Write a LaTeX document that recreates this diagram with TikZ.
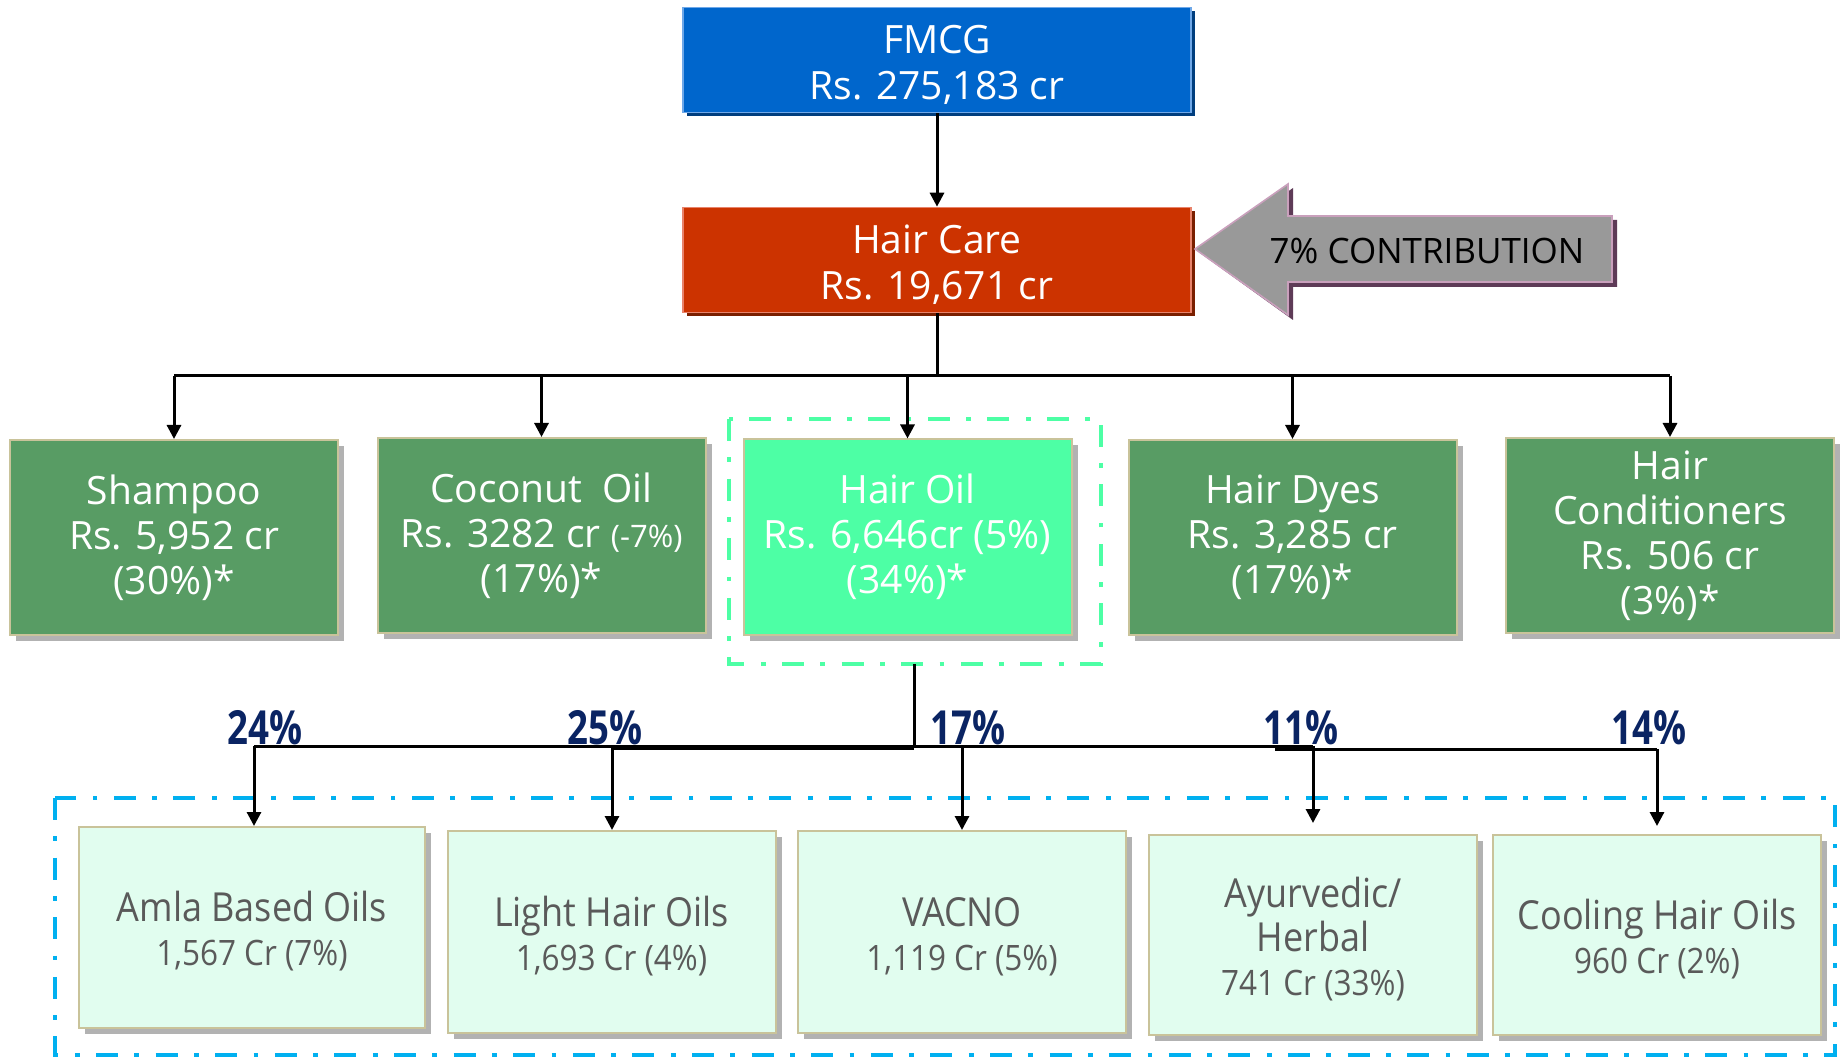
\documentclass[tikz,border=0pt]{standalone}
\usepackage{fontspec}
\setmainfont{Open Sans}
\newfontfamily\condfont[FakeStretch=0.9]{Open Sans}
\newfontfamily\pctfont[FakeStretch=0.78]{Open Sans}
\usetikzlibrary{arrows.meta,shadows}
\definecolor{fmcgblue}{HTML}{0066CC}
\definecolor{fmcgedge}{HTML}{6FA8E8}
\definecolor{fmcgshadow}{HTML}{003E7E}
\definecolor{hcred}{HTML}{CC3300}
\definecolor{hcedge}{HTML}{E8836B}
\definecolor{hcshadow}{HTML}{7A1F00}
\definecolor{grn}{HTML}{589C64}
\definecolor{tanb}{HTML}{C9C39A}
\definecolor{shgray}{HTML}{B2B2B2}
\definecolor{oilgreen}{HTML}{4DFFA5}
\definecolor{mint}{HTML}{E1FDEF}
\definecolor{cyanline}{HTML}{00B0F0}
\definecolor{navy}{HTML}{0A2463}
\definecolor{txtgray}{HTML}{5A5A5A}
\definecolor{arrgray}{HTML}{999999}
\definecolor{arredge}{HTML}{C9A0BC}
\definecolor{arrshadow}{HTML}{5E3B57}
\newcommand{\toplift}{\rule{0pt}{19.5pt}}
\newcommand{\sublift}{\rule{0pt}{19pt}}
\tikzset{
  topbox/.style={rectangle, inner sep=0pt, minimum width=254pt, minimum height=52.5pt,
    line width=0.8pt, text=white, align=center, font=\fontsize{19.5}{23}\selectfont},
  catbox/.style={rectangle, inner sep=0pt, minimum width=164pt, minimum height=97.5pt,
    fill=grn, draw=tanb, line width=1pt, text=white, align=center,
    font=\fontsize{19.5}{22.5}\selectfont,
    drop shadow={shadow xshift=3pt, shadow yshift=-3pt, fill=shgray, opacity=1}},
  subbox/.style={rectangle, inner sep=0pt, minimum width=164pt, minimum height=101pt,
    fill=mint, draw=tanb, line width=1pt, text=txtgray, align=center,
    font=\condfont\fontsize{20}{22}\selectfont,
    drop shadow={shadow xshift=3pt, shadow yshift=-3pt, fill=shgray, opacity=1}},
  ln/.style={line width=1.5pt, draw=black},
  arr/.style={ln, -{Triangle[length=7pt,width=7pt]}},
  pct/.style={font=\pctfont\bfseries\fontsize{23.5}{26}\selectfont, text=navy, anchor=base, inner sep=0pt},
  dashdot/.style={line width=2.4pt, dash pattern=on 11pt off 8.2pt on 2.4pt off 8.2pt}
}
\begin{document}
\begin{tikzpicture}[x=0.5pt,y=-0.5pt]
\useasboundingbox (0,0) rectangle (1841,1058);
% frames
\draw[dashdot, draw=cyanline] (55,798) rectangle (1835,1055);
\draw[dashdot, draw=oilgreen] (729,419) rectangle (1101,664);
% top boxes
\node[topbox, fill=fmcgblue, draw=fmcgedge,
  drop shadow={shadow xshift=2pt, shadow yshift=-2pt, fill=fmcgshadow, opacity=1}]
  (fmcg) at (937,60) {\toplift FMCG\\Rs. 275,183 cr};
\node[topbox, fill=hcred, draw=hcedge,
  drop shadow={shadow xshift=2pt, shadow yshift=-2pt, fill=hcshadow, opacity=1}]
  (haircare) at (937,260) {\toplift Hair Care\\Rs. 19,671 cr};
% contribution arrow shape
\fill[arrshadow] (1200,253) -- (1293,188) -- (1293,220) -- (1617,220) -- (1617,287)
  -- (1293,287) -- (1293,320) -- cycle;
\filldraw[fill=arrgray, draw=arredge, line width=0.8pt] (1195,249) -- (1288,184) -- (1288,216)
  -- (1612,216) -- (1612,282) -- (1288,282) -- (1288,315) -- cycle;
\node[font=\fontsize{17.5}{20}\selectfont, text=black, inner sep=0pt] (contrib) at (1427,251) {7\% CONTRIBUTION};
% category boxes
\node[catbox] (shampoo) at (174,537.5) {Shampoo\\Rs. 5,952 cr\\(30\%)*};
\node[catbox] (coconut) at (541.5,535.5) {Coconut\ \ Oil\\Rs. 3282 cr {\fontsize{15.5}{22.5}\selectfont(-7\%)}\\(17\%)*};
\node[catbox, fill=oilgreen] (hairoil) at (907.5,537) {Hair Oil\\Rs. 6,646cr (5\%)\\(34\%)*};
\node[catbox] (dyes) at (1292.5,537.5) {Hair Dyes\\Rs. 3,285 cr\\(17\%)*};
\node[catbox] (cond) at (1670,535.5) {Hair\\Conditioners\\Rs. 506 cr\\(3\%)*};
% sub boxes
\node[subbox, minimum width=173pt, minimum height=100.5pt] (amla) at (252,927.5)
  {\sublift Amla Based Oils\\{\fontsize{17.5}{20.5}\selectfont 1,567 Cr (7\%)}};
\node[subbox] (light) at (611.5,932)
  {\sublift Light Hair Oils\\{\fontsize{17.5}{20.5}\selectfont 1,693 Cr (4\%)}};
\node[subbox] (vacno) at (962,932)
  {\sublift VACNO\\{\fontsize{17.5}{20.5}\selectfont 1,119 Cr (5\%)}};
\node[subbox, minimum height=100pt] (ayur) at (1313,935)
  {\sublift Ayurvedic/\\Herbal\\{\fontsize{17.5}{21}\selectfont 741 Cr (33\%)}};
\node[subbox, minimum height=100pt] (cooling) at (1657,935)
  {\sublift Cooling Hair Oils\\{\fontsize{17.5}{20.5}\selectfont 960 Cr (2\%)}};
% level 1 connector
\draw[arr] (fmcg.south) -- (haircare.north);
% level 2 connectors
\coordinate (hcj) at (937,376);
\draw[ln] (haircare.south) -- (hcj);
\draw[ln] (shampoo.north |- hcj) -- (cond.north |- hcj);
\foreach \n in {shampoo,coconut,hairoil,dyes,cond}
  \draw[arr] (\n.north |- hcj) -- (\n.north);
% level 3 connectors
\coordinate (hoj) at (914,664);
\coordinate (hoj2) at (914,746);
\coordinate (a1) at (254,746);
\coordinate (a2) at (612,748);
\coordinate (a3) at (962,746);
\coordinate (a4) at (1313,746);
\coordinate (b4) at (1275,749);
\coordinate (a5) at (1657,749);
\coordinate (c2) at (914,748);
\coordinate (t1) at (254,826);
\coordinate (t2) at (612,830);
\coordinate (t3) at (962,830);
\coordinate (t4) at (1313,823);
\coordinate (t5) at (1657,826);
\draw[ln] (hoj) -- (hoj2);
\draw[ln] (a1) -- (a4);
\draw[ln] (a2) -- (c2);
\draw[ln] (b4) -- (a5);
\draw[arr] (a1) -- (t1);
\draw[arr] (a2) -- (t2);
\draw[arr] (a3) -- (t3);
\draw[arr] (a4) -- (t4);
\draw[arr] (a5) -- (t5);
% percent labels
\node[pct] (p24) at (265,744) {24\%};
\node[pct] (p25) at (605,744) {25\%};
\node[pct] (p17) at (968,744) {17\%};
\node[pct] (p11) at (1301,744) {11\%};
\node[pct] (p14) at (1649,744) {14\%};
\end{tikzpicture}
\end{document}
